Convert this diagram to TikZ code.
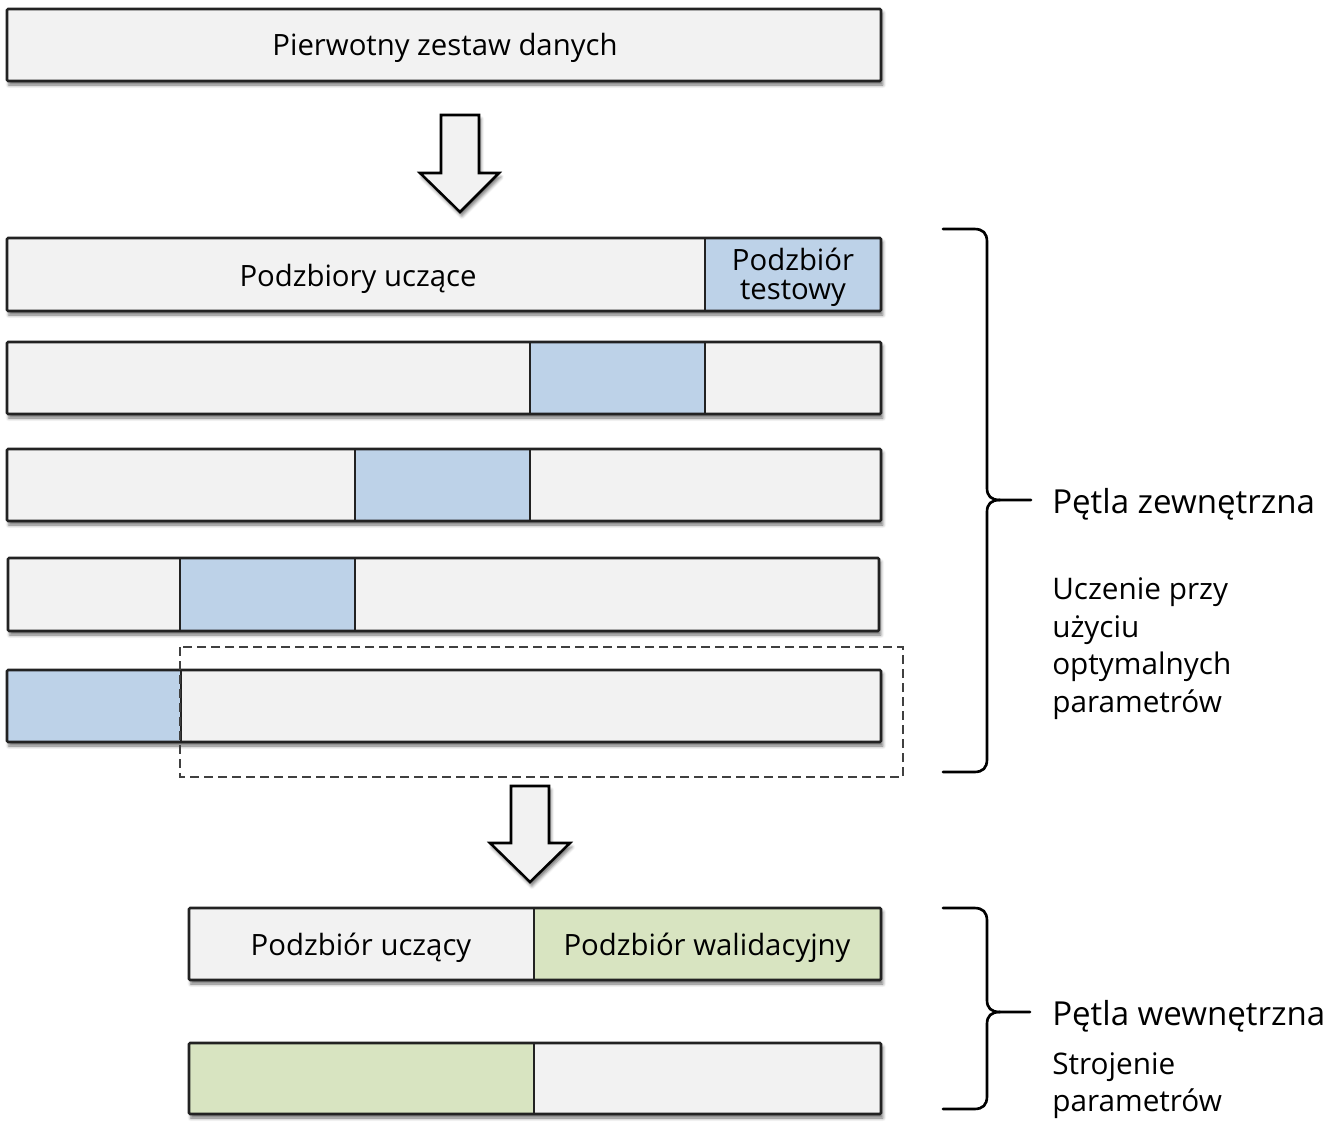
\documentclass[tikz,border=0pt]{standalone}
\usepackage{fontspec}
\setmainfont{Open Sans}
\usetikzlibrary{shadows.blur}
\definecolor{barfill}{RGB}{242,242,242}
\definecolor{testblue}{RGB}{189,210,232}
\definecolor{valgreen}{RGB}{216,228,193}
\definecolor{edgecol}{RGB}{34,34,34}
\tikzset{
  barshadow/.style={blur shadow={shadow xshift=1.4pt, shadow yshift=-3pt, shadow blur radius=2.4pt, shadow opacity=55}},
  edgeline/.style={draw=edgecol, line width=1.9pt, rounded corners=0.8pt},
  divline/.style={draw=edgecol, line width=1.6pt},
  blockarrow/.style={fill=barfill, draw=black, line width=1.9pt, line join=miter, barshadow},
  bracestyle/.style={draw=black, line width=2pt, line cap=round},
  dashbox/.style={draw=black!75, line width=2.1pt, dash pattern=on 6.5pt off 4pt},
  lbl/.style={font=\fontsize{22}{26}\selectfont, inner sep=0pt, anchor=base},
  side/.style={font=\fontsize{22.3}{26}\selectfont, inner sep=0pt, anchor=base west},
  loop/.style={font=\fontsize{24.8}{28}\selectfont, inner sep=0pt, anchor=base west}
}
\begin{document}
\begin{tikzpicture}[x=0.75pt, y=-0.75pt]
\useasboundingbox (0,0) rectangle (1328,1131);

% top bar
\fill[barfill, barshadow] (7,9) rectangle (881,81);
\draw[edgeline] (7,9) rectangle (881,81);
\node[lbl] (orig) at (445,56) {Pierwotny zestaw danych};

% arrow 1
\draw[blockarrow] (441,115) -- (479,115) -- (479,173) -- (499,173) -- (460,212) -- (420,173) -- (441,173) -- cycle;

% row 1
\fill[barfill, barshadow] (7,238) rectangle (881,311);
\fill[testblue] (705,238) rectangle (881,311);
\draw[divline] (705,238) -- (705,311);
\draw[edgeline] (7,238) rectangle (881,311);
\node[lbl] (train) at (358,286) {Podzbiory uczące};
\node[lbl] (test1) at (793,270) {Podzbiór};
\node[lbl] (test2) at (793,299) {testowy};

% row 2
\fill[barfill, barshadow] (7,342) rectangle (881,414);
\fill[testblue] (530,342) rectangle (705,414);
\draw[divline] (530,342) -- (530,414) (705,342) -- (705,414);
\draw[edgeline] (7,342) rectangle (881,414);

% row 3
\fill[barfill, barshadow] (7,449) rectangle (881,521);
\fill[testblue] (355,449) rectangle (530,521);
\draw[divline] (355,449) -- (355,521) (530,449) -- (530,521);
\draw[edgeline] (7,449) rectangle (881,521);

% row 4
\fill[barfill, barshadow] (8,558) rectangle (879,631);
\fill[testblue] (180,558) rectangle (355,631);
\draw[divline] (180,558) -- (180,631) (355,558) -- (355,631);
\draw[edgeline] (8,558) rectangle (879,631);

% row 5
\fill[barfill, barshadow] (7,670) rectangle (881,742);
\fill[testblue] (7,670) rectangle (181,742);
\draw[divline] (181,670) -- (181,742);
\draw[edgeline] (7,670) rectangle (881,742);

% dashed box
\draw[dashbox] (180,647) rectangle (903,777);

% arrow 2
\draw[blockarrow] (511,786) -- (549,786) -- (549,843) -- (570,843) -- (530,882) -- (490,843) -- (511,843) -- cycle;

% inner row A
\fill[barfill, barshadow] (189,908) rectangle (881,980);
\fill[valgreen] (534,908) rectangle (881,980);
\draw[divline] (534,908) -- (534,980);
\draw[edgeline] (189,908) rectangle (881,980);
\node[lbl] (itrain) at (361,955) {Podzbiór uczący};
\node[lbl] (ival) at (707,955) {Podzbiór walidacyjny};

% inner row B
\fill[barfill, barshadow] (189,1043) rectangle (881,1114);
\fill[valgreen] (189,1043) rectangle (534,1114);
\draw[divline] (534,1043) -- (534,1114);
\draw[edgeline] (189,1043) rectangle (881,1114);

% outer brace
\draw[bracestyle] (943,229) -- (974,229) .. controls (983,229) and (987,233) .. (987,242) -- (987,488)
  .. controls (987,496) and (991,500) .. (1000,500) -- (1031,500);
\draw[bracestyle] (1000,500) .. controls (991,500) and (987,504) .. (987,512) -- (987,759)
  .. controls (987,768) and (983,772) .. (974,772) -- (943,772);

% inner brace
\draw[bracestyle] (943,908) -- (974,908) .. controls (983,908) and (987,912) .. (987,921) -- (987,1000)
  .. controls (987,1008) and (991,1012) .. (1000,1012) -- (1030,1012);
\draw[bracestyle] (1000,1012) .. controls (991,1012) and (987,1016) .. (987,1024) -- (987,1096)
  .. controls (987,1105) and (983,1109) .. (974,1109) -- (943,1109);

% side labels
\node[loop] (outer) at (1052,513) {Pętla zewnętrzna};
\node[side] (o1) at (1052,599) {Uczenie przy};
\node[side] (o2) at (1052,637) {użyciu};
\node[side] (o3) at (1052,674) {optymalnych};
\node[side] (o4) at (1052,712) {parametrów};

\node[loop] (inner) at (1052,1025) {Pętla wewnętrzna};
\node[side] (i1) at (1052,1074) {Strojenie};
\node[side] (i2) at (1052,1111) {parametrów};
\end{tikzpicture}
\end{document}
